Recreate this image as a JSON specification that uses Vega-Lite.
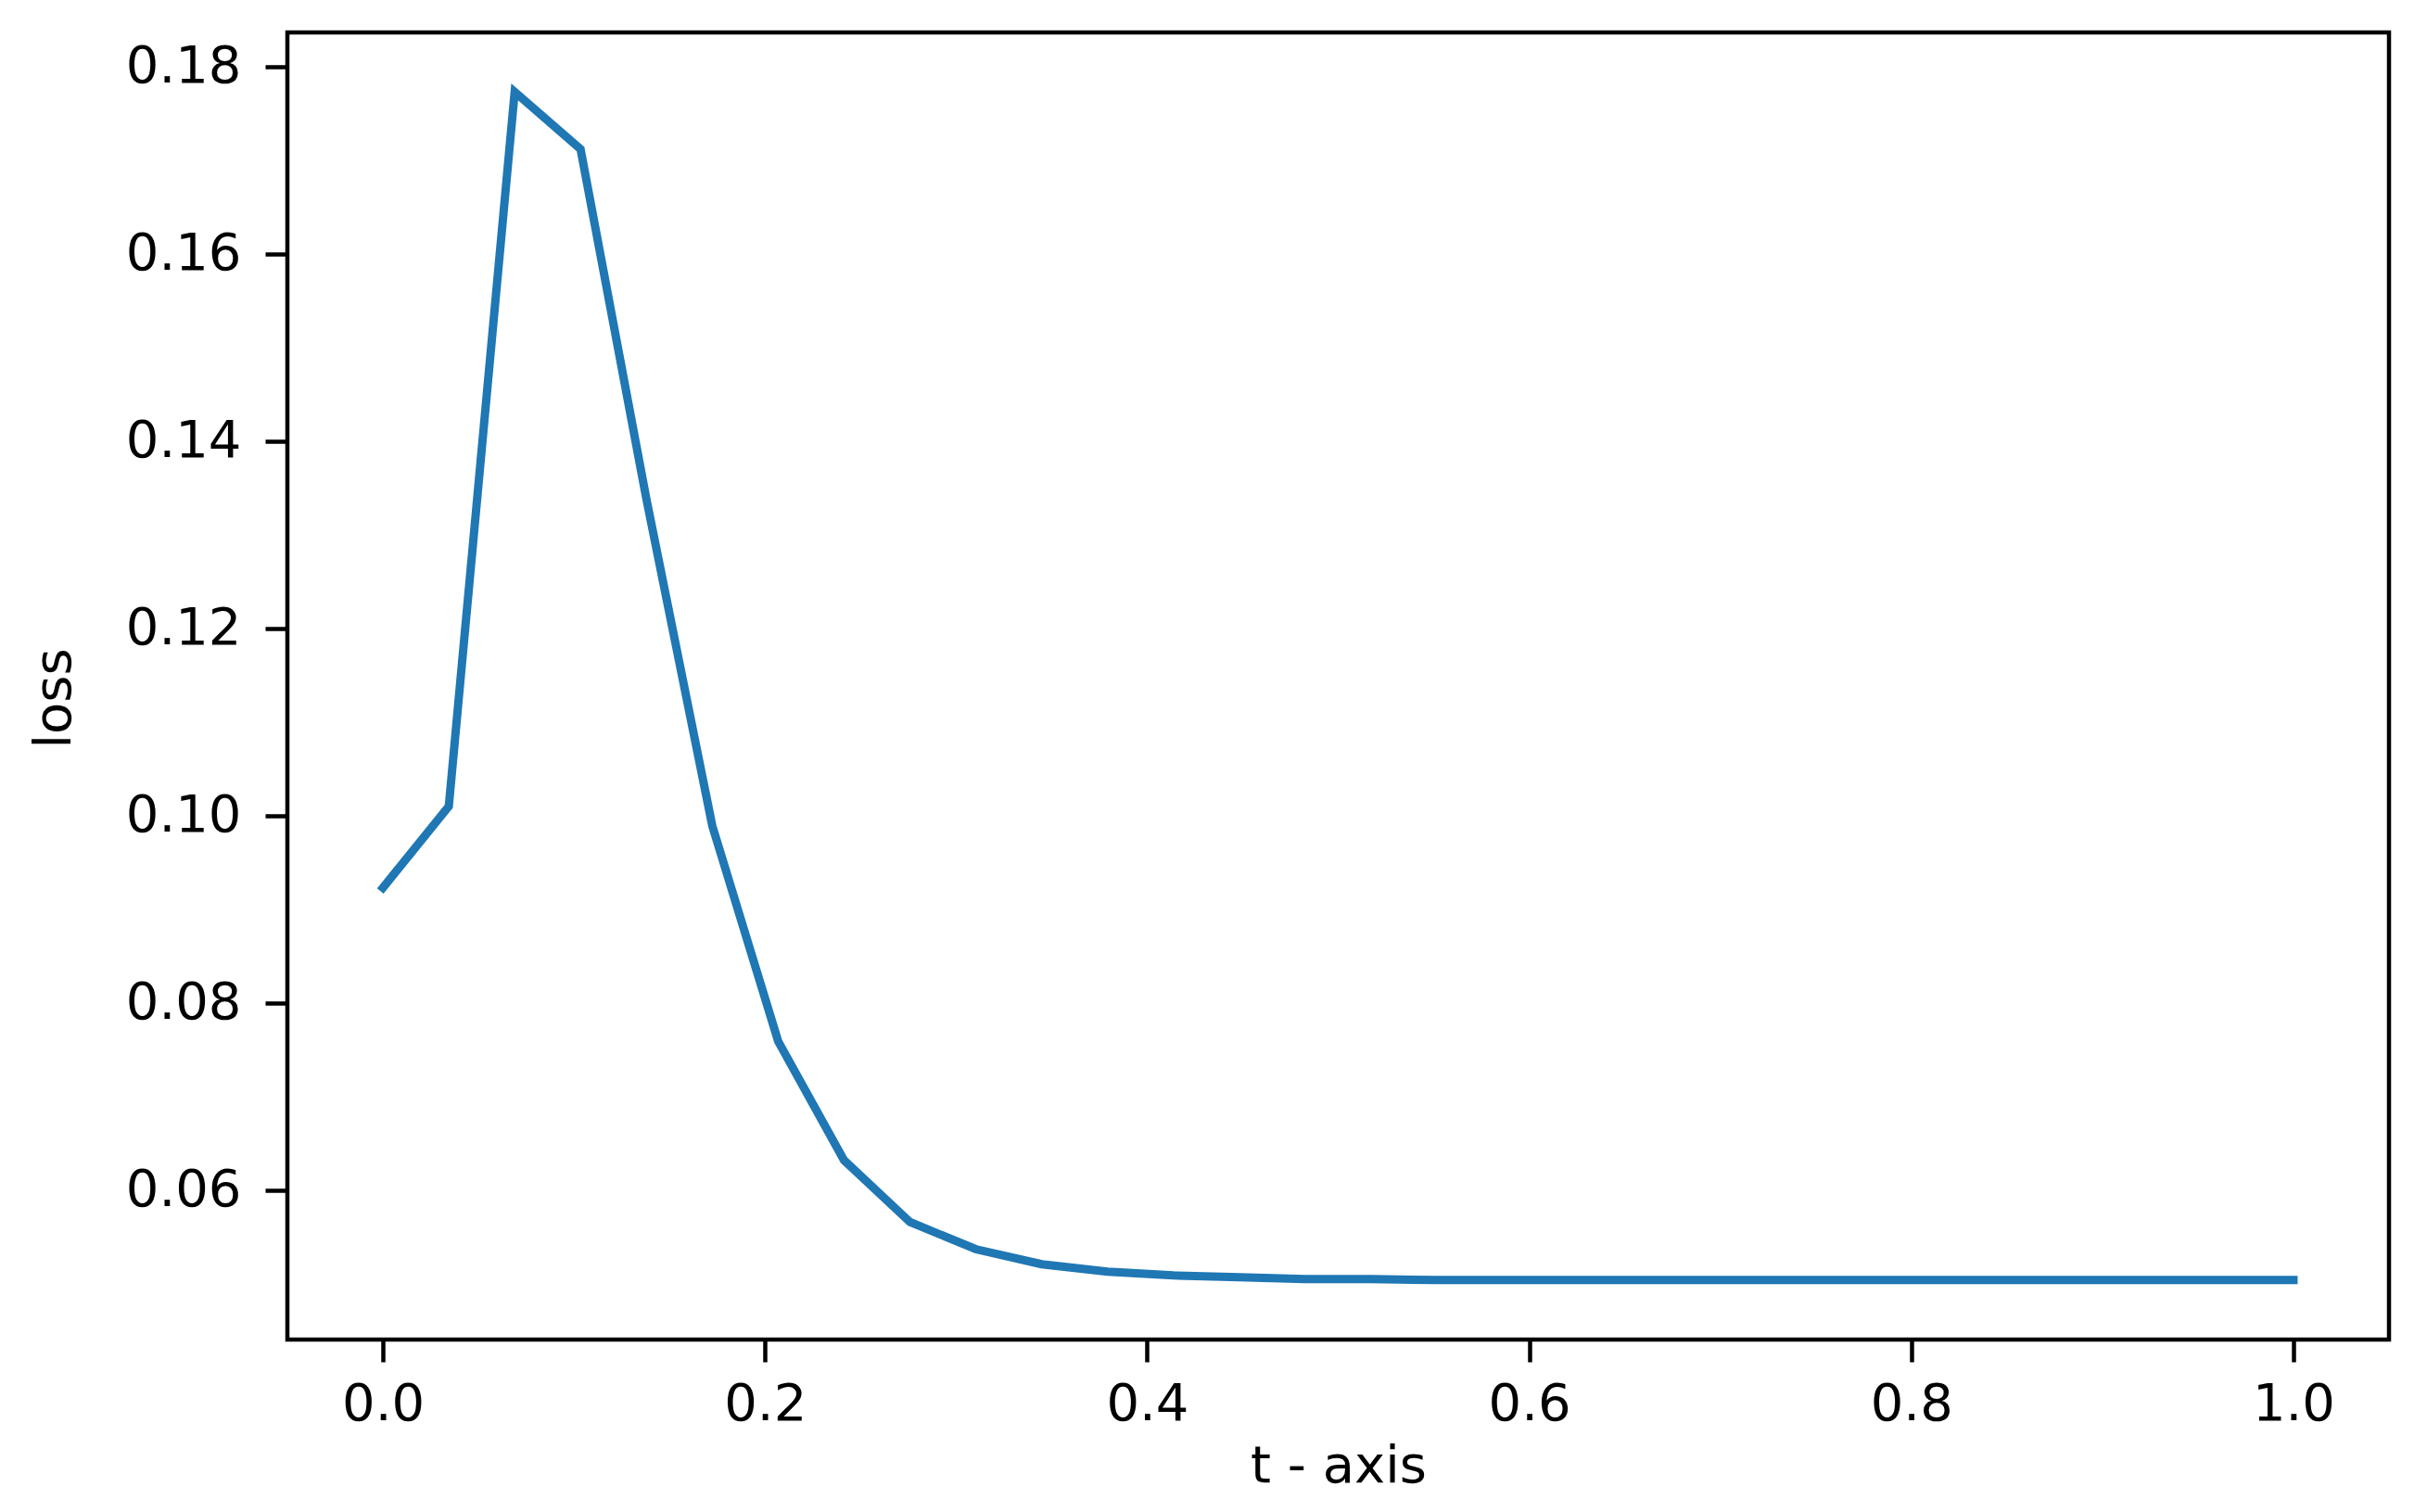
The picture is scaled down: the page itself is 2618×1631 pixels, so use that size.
{
  "$schema": "https://vega.github.io/schema/vega-lite/v6.json",
  "width": 2267,
  "height": 1410,
  "autosize": {"type": "none"},
  "padding": {"left": 310, "top": 35, "right": 41, "bottom": 186},
  "background": "white",
  "config": {
    "view": {"stroke": "black", "strokeWidth": 4.5},
    "font": "DejaVu Sans",
    "axis": {
      "grid": false,
      "domain": false,
      "tickColor": "black",
      "tickSize": 24,
      "tickWidth": 4.5,
      "labelFont": "DejaVu Sans",
      "labelFontSize": 56,
      "labelColor": "black",
      "titleFont": "DejaVu Sans",
      "titleFontSize": 56,
      "titleFontWeight": "normal",
      "titleColor": "black"
    }
  },
  "data": {
    "values": [
      {"t": 0.0, "loss": 0.0923},
      {"t": 0.034483, "loss": 0.1010},
      {"t": 0.068966, "loss": 0.1773},
      {"t": 0.103448, "loss": 0.1712},
      {"t": 0.137931, "loss": 0.1338},
      {"t": 0.172414, "loss": 0.0989},
      {"t": 0.206897, "loss": 0.0759},
      {"t": 0.241379, "loss": 0.0632},
      {"t": 0.275862, "loss": 0.0566},
      {"t": 0.310345, "loss": 0.0537},
      {"t": 0.344828, "loss": 0.0521},
      {"t": 0.379310, "loss": 0.0513},
      {"t": 0.413793, "loss": 0.0509},
      {"t": 0.448276, "loss": 0.0507},
      {"t": 0.482759, "loss": 0.0505},
      {"t": 0.517241, "loss": 0.0505},
      {"t": 0.551724, "loss": 0.0504},
      {"t": 0.586207, "loss": 0.0504},
      {"t": 0.620690, "loss": 0.0504},
      {"t": 0.655172, "loss": 0.0504},
      {"t": 0.689655, "loss": 0.0504},
      {"t": 0.724138, "loss": 0.0504},
      {"t": 0.758621, "loss": 0.0504},
      {"t": 0.793103, "loss": 0.0504},
      {"t": 0.827586, "loss": 0.0504},
      {"t": 0.862069, "loss": 0.0504},
      {"t": 0.896552, "loss": 0.0504},
      {"t": 0.931034, "loss": 0.0504},
      {"t": 0.965517, "loss": 0.0504},
      {"t": 1.0, "loss": 0.0504}
    ]
  },
  "mark": {"type": "line", "color": "#1f77b4", "strokeWidth": 9, "strokeJoin": "miter", "strokeCap": "square", "clip": true},
  "encoding": {
    "x": {
      "field": "t",
      "type": "quantitative",
      "scale": {"domain": [-0.05, 1.05], "nice": false, "zero": false},
      "axis": {"title": "t - axis", "values": [0, 0.2, 0.4, 0.6, 0.8, 1.0], "format": ".1f", "labelPadding": 18, "titlePadding": 12}
    },
    "y": {
      "field": "loss",
      "type": "quantitative",
      "scale": {"domain": [0.04405, 0.18365], "nice": false, "zero": false},
      "axis": {"title": "loss", "values": [0.06, 0.08, 0.10, 0.12, 0.14, 0.16, 0.18], "format": ".2f", "labelPadding": 26, "titlePadding": 48, "titleY": 718}
    }
  }
}
